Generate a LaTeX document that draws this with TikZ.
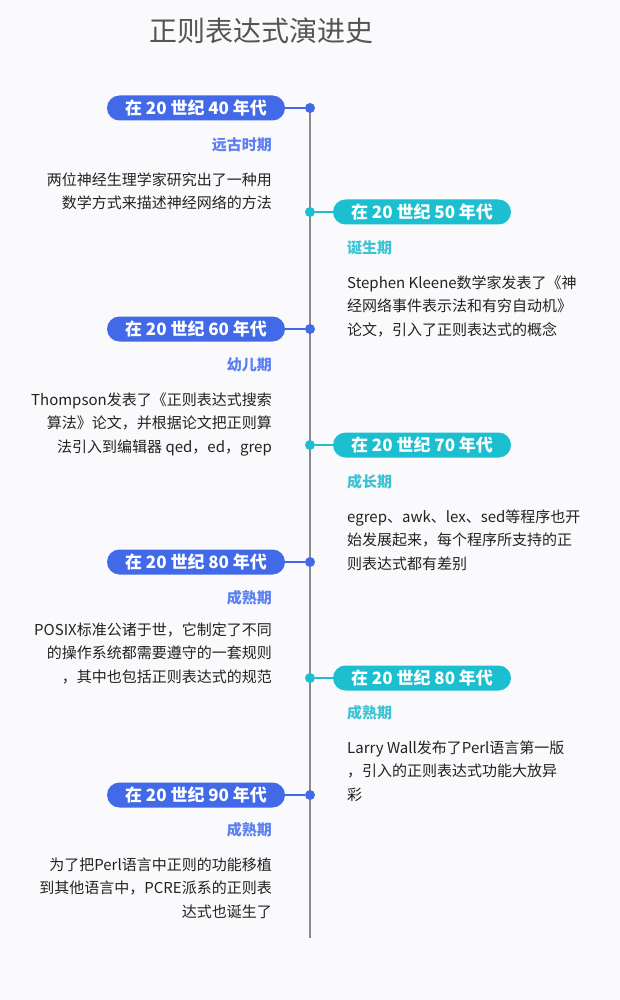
\documentclass[tikz,border=0pt]{standalone}
\usepackage{fontspec}
\setmainfont{Noto Sans CJK SC}
\usetikzlibrary{positioning}
\definecolor{bgpage}{HTML}{FAFAFC}
\definecolor{bluebar}{HTML}{4169E8}
\definecolor{cyanbar}{HTML}{1BBFCF}
\definecolor{bluelabel}{HTML}{5B7FF0}
\definecolor{cyanlabel}{HTML}{3CC3D3}
\definecolor{axisgray}{HTML}{8A8A8A}
\definecolor{titlegray}{HTML}{555555}
\definecolor{bodytext}{HTML}{222222}
\tikzset{
  bar/.style={text=white, rounded corners=12.5pt, minimum width=178pt,
    minimum height=25pt, inner sep=0pt, font=\fontsize{17}{17}\selectfont\bfseries},
  leftbar/.style={bar, fill=bluebar},
  rightbar/.style={bar, fill=cyanbar},
  leftdot/.style={circle, fill=bluebar, inner sep=0pt, minimum size=10pt},
  rightdot/.style={circle, fill=cyanbar, inner sep=0pt, minimum size=10pt},
  period/.style={inner sep=0pt, font=\fontsize{15}{15}\selectfont\bfseries},
  lefttext/.style={inner sep=0pt, align=right, anchor=north east, text=bodytext,
    font=\fontsize{15}{23.5}\selectfont},
  righttext/.style={inner sep=0pt, align=left, anchor=north west, text=bodytext,
    font=\fontsize{15}{23.5}\selectfont}
}
\begin{document}
\begin{tikzpicture}[x=1pt, y=-1pt]
\fill[bgpage] (0,0) rectangle (620,1000);
\useasboundingbox (0,0) rectangle (620,1000);

\node[text=titlegray, font=\fontsize{28}{28}\selectfont] (title) at (261,31) {正则表达式演进史};

% axis
\coordinate (top) at (310,108);
\coordinate (bottom) at (310,938);
\draw[axisgray, line width=2pt] (top) -- (bottom);

% 40
\node[leftdot] (d40) at (310,108) {};
\node[leftbar] (b40) at (196,108) {在 20 世纪 40 年代};
\draw[bluebar, line width=2pt] (d40) -- (b40);
\node[period, text=bluelabel, anchor=east] (l40) at (272,145) {远古时期};
\node[lefttext] (t40) at (272,172.5) {两位神经生理学家研究出了一种用\\数学方式来描述神经网络的方法};

% 50
\node[rightdot] (d50) at (310,212) {};
\node[rightbar] (b50) at (422,212) {在 20 世纪 50 年代};
\draw[cyanbar, line width=2pt] (d50) -- (b50);
\node[period, text=cyanlabel, anchor=west] (l50) at (347,248) {诞生期};
\node[righttext] (t50) at (347,275.5) {Stephen Kleene数学家发表了《神\\经网络事件表示法和有穷自动机》\\论文，引入了正则表达式的概念};

% 60
\node[leftdot] (d60) at (310,329) {};
\node[leftbar] (b60) at (196,329) {在 20 世纪 60 年代};
\draw[bluebar, line width=2pt] (d60) -- (b60);
\node[period, text=bluelabel, anchor=east] (l60) at (272,365) {幼儿期};
\node[lefttext] (t60) at (272,392.5) {Thompson发表了《正则表达式搜索\\算法》论文，并根据论文把正则算\\法引入到编辑器 qed，ed，grep};

% 70
\node[rightdot] (d70) at (310,445) {};
\node[rightbar] (b70) at (422,445) {在 20 世纪 70 年代};
\draw[cyanbar, line width=2pt] (d70) -- (b70);
\node[period, text=cyanlabel, anchor=west] (l70) at (347,482) {成长期};
\node[righttext] (t70) at (347,509.5) {egrep、awk、lex、sed等程序也开\\始发展起来，每个程序所支持的正\\则表达式都有差别};

% 80 (left)
\node[leftdot] (d80a) at (310,562) {};
\node[leftbar] (b80a) at (196,562) {在 20 世纪 80 年代};
\draw[bluebar, line width=2pt] (d80a) -- (b80a);
\node[period, text=bluelabel, anchor=east] (l80a) at (272,598) {成熟期};
\node[lefttext] (t80a) at (272,622.5) {POSIX标准公诸于世，它制定了不同\\的操作系统都需要遵守的一套规则\\，其中也包括正则表达式的规范};

% 80 (right)
\node[rightdot] (d80b) at (310,678) {};
\node[rightbar] (b80b) at (422,678) {在 20 世纪 80 年代};
\draw[cyanbar, line width=2pt] (d80b) -- (b80b);
\node[period, text=cyanlabel, anchor=west] (l80b) at (347,713) {成熟期};
\node[righttext] (t80b) at (347,740.5) {Larry Wall发布了Perl语言第一版\\，引入的正则表达式功能大放异\\彩};

% 90
\node[leftdot] (d90) at (310,795) {};
\node[leftbar] (b90) at (196,795) {在 20 世纪 90 年代};
\draw[bluebar, line width=2pt] (d90) -- (b90);
\node[period, text=bluelabel, anchor=east] (l90) at (272,830) {成熟期};
\node[lefttext] (t90) at (272,857.5) {为了把Perl语言中正则的功能移植\\到其他语言中，PCRE派系的正则表\\达式也诞生了};

\end{tikzpicture}
\end{document}
